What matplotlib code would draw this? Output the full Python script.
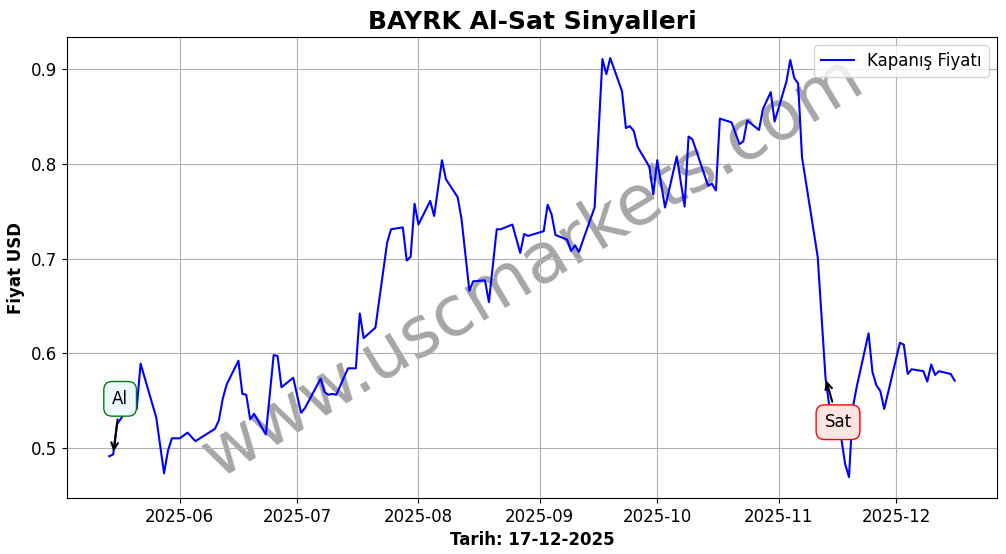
import numpy as np
import pandas as pd
import matplotlib
matplotlib.use('Agg')
import matplotlib.pyplot as plt
import matplotlib.dates as mdates

# closing prices
dates = ['2025-05-14', '2025-05-15', '2025-05-16', '2025-05-18', '2025-05-21', '2025-05-22',
         '2025-05-26', '2025-05-28', '2025-05-29', '2025-05-30', '2025-06-01', '2025-06-03',
         '2025-06-05', '2025-06-10', '2025-06-11', '2025-06-12', '2025-06-13', '2025-06-16',
         '2025-06-17', '2025-06-18', '2025-06-19', '2025-06-20', '2025-06-23', '2025-06-25',
         '2025-06-26', '2025-06-27', '2025-06-30', '2025-07-02', '2025-07-03', '2025-07-07',
         '2025-07-08', '2025-07-09', '2025-07-10', '2025-07-11', '2025-07-14', '2025-07-16',
         '2025-07-17', '2025-07-18', '2025-07-21', '2025-07-23', '2025-07-24', '2025-07-25',
         '2025-07-28', '2025-07-29', '2025-07-30', '2025-07-31', '2025-08-01', '2025-08-04',
         '2025-08-05', '2025-08-07', '2025-08-08', '2025-08-11', '2025-08-12', '2025-08-13',
         '2025-08-14', '2025-08-15', '2025-08-18', '2025-08-19', '2025-08-20', '2025-08-21',
         '2025-08-22', '2025-08-25', '2025-08-26', '2025-08-27', '2025-08-28', '2025-08-29',
         '2025-09-02', '2025-09-03', '2025-09-04', '2025-09-05', '2025-09-08', '2025-09-09',
         '2025-09-10', '2025-09-11', '2025-09-12', '2025-09-15', '2025-09-17', '2025-09-18',
         '2025-09-19', '2025-09-22', '2025-09-23', '2025-09-24', '2025-09-25', '2025-09-26',
         '2025-09-29', '2025-09-30', '2025-10-01', '2025-10-03', '2025-10-06', '2025-10-08',
         '2025-10-09', '2025-10-10', '2025-10-14', '2025-10-15', '2025-10-16', '2025-10-17',
         '2025-10-20', '2025-10-22', '2025-10-23', '2025-10-24', '2025-10-27', '2025-10-28',
         '2025-10-30', '2025-10-31', '2025-11-03', '2025-11-04', '2025-11-05', '2025-11-06',
         '2025-11-07', '2025-11-11', '2025-11-13', '2025-11-14', '2025-11-17', '2025-11-18',
         '2025-11-19', '2025-11-20', '2025-11-21', '2025-11-24', '2025-11-25', '2025-11-26',
         '2025-11-27', '2025-11-28', '2025-12-02', '2025-12-03', '2025-12-04', '2025-12-05',
         '2025-12-08', '2025-12-09', '2025-12-10', '2025-12-11', '2025-12-12', '2025-12-15',
         '2025-12-16']
close = [0.491, 0.493, 0.525, 0.537, 0.541, 0.589,
         0.532, 0.473, 0.497, 0.510, 0.510, 0.516,
         0.507, 0.520, 0.529, 0.552, 0.567, 0.592,
         0.557, 0.556, 0.530, 0.536, 0.514, 0.598,
         0.597, 0.564, 0.574, 0.537, 0.542, 0.573,
         0.559, 0.556, 0.557, 0.556, 0.584, 0.584,
         0.642, 0.616, 0.627, 0.687, 0.717, 0.731,
         0.733, 0.698, 0.702, 0.758, 0.736, 0.761,
         0.745, 0.804, 0.784, 0.765, 0.742, 0.704,
         0.666, 0.676, 0.677, 0.654, 0.693, 0.731,
         0.731, 0.736, 0.721, 0.706, 0.726, 0.724,
         0.729, 0.757, 0.747, 0.725, 0.720, 0.708,
         0.714, 0.707, 0.719, 0.754, 0.911, 0.895,
         0.912, 0.877, 0.838, 0.840, 0.835, 0.818,
         0.797, 0.768, 0.804, 0.754, 0.808, 0.755,
         0.829, 0.826, 0.777, 0.779, 0.772, 0.848,
         0.844, 0.821, 0.824, 0.846, 0.836, 0.858,
         0.876, 0.845, 0.887, 0.910, 0.891, 0.885,
         0.807, 0.702, 0.574, 0.543, 0.511, 0.483,
         0.469, 0.543, 0.565, 0.621, 0.580, 0.566,
         0.560, 0.541, 0.611, 0.609, 0.578, 0.583,
         0.581, 0.570, 0.588, 0.577, 0.581, 0.578,
         0.571]

buy_date, buy_price = '2025-05-15', 0.493
sell_date, sell_price = '2025-11-13', 0.574

dates = pd.to_datetime(dates)

fig = plt.figure(figsize=(10.06, 5.54), dpi=100)
ax = fig.add_subplot(111)
fig.subplots_adjust(left=0.0666, right=0.991, top=0.933, bottom=0.101)

ax.plot(dates, close, color='blue', linewidth=1.5, label='Kapanış Fiyatı', zorder=2)

ax.annotate('Al', xy=(pd.Timestamp(buy_date), buy_price), xytext=(5, 40),
            textcoords='offset points', ha='center', va='center', fontsize=12,
            bbox=dict(boxstyle='round,pad=0.5', fc='aliceblue', ec='green'),
            arrowprops=dict(arrowstyle='->', color='black', lw=1.5))
ax.annotate('Sat', xy=(pd.Timestamp(sell_date), sell_price), xytext=(9, -32),
            textcoords='offset points', ha='center', va='center', fontsize=12,
            bbox=dict(boxstyle='round,pad=0.5', fc='mistyrose', ec='red'),
            arrowprops=dict(arrowstyle='->', color='black', lw=1.5))

ax.text(0.5, 0.5, 'www.uscmarkets.com', transform=ax.transAxes, fontsize=50,
        color='gray', alpha=0.7, rotation=31, ha='center', va='center', zorder=1)

ax.set_title('BAYRK Al-Sat Sinyalleri', fontsize=18, fontweight='bold')
ax.set_xlabel('Tarih: 17-12-2025', fontsize=12, fontweight='bold')
ax.set_ylabel('Fiyat USD', fontsize=12, fontweight='bold')
ax.xaxis.set_major_locator(mdates.MonthLocator())
ax.xaxis.set_major_formatter(mdates.DateFormatter('%Y-%m'))
ax.tick_params(labelsize=12)
ax.grid(True)
ax.legend(loc='upper right', fontsize=12)

fig.savefig('out.png', dpi=100)
